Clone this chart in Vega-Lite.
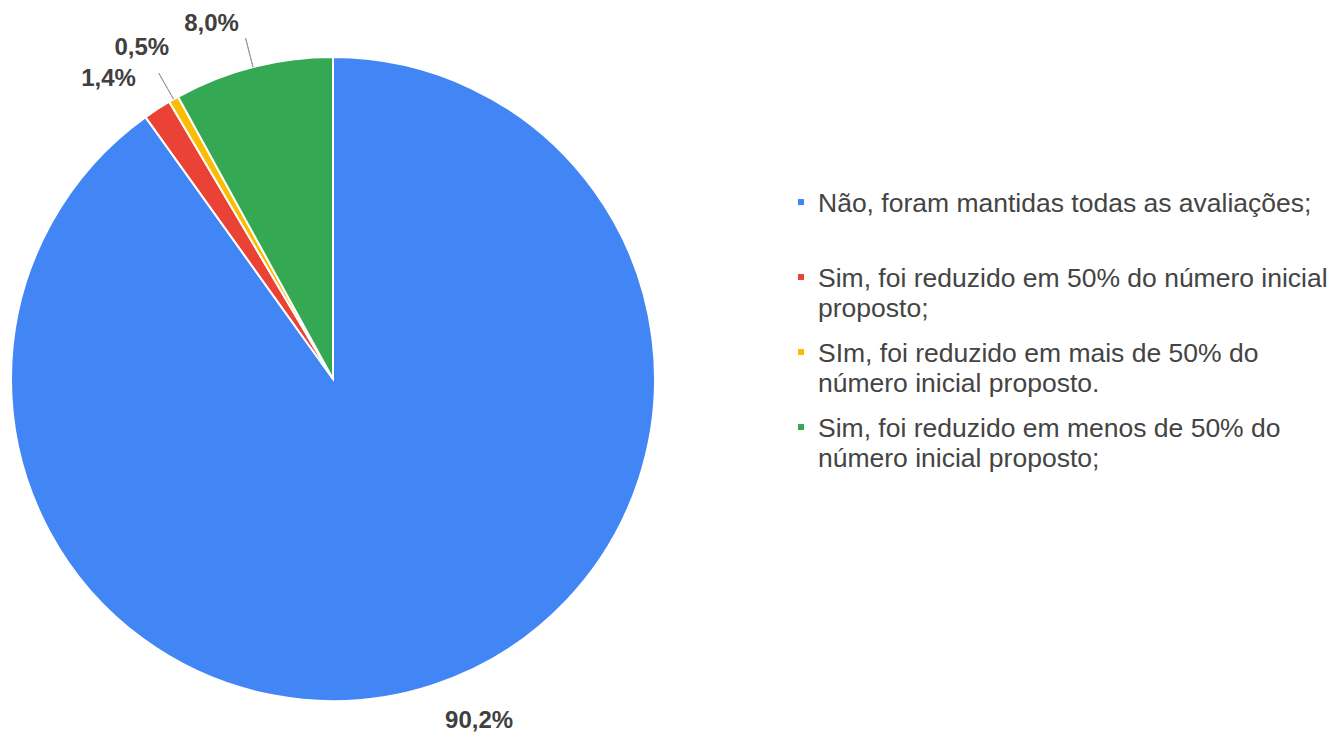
{
  "$schema": "https://vega.github.io/schema/vega-lite/v6.json",
  "background": "white",
  "padding": {"left": 7, "top": 12, "right": 0, "bottom": 0},
  "config": {"view": {"stroke": null}, "font": "Liberation Sans"},
  "data": {"values": [
    {"cat": "Não, foram mantidas todas as avaliações;", "ord": 1, "pct": 90.2, "lbl": "90,2%"},
    {"cat": "Sim, foi reduzido em 50% do número inicial\nproposto;", "ord": 2, "pct": 1.4, "lbl": "1,4%"},
    {"cat": "SIm, foi reduzido em mais de 50% do\nnúmero inicial proposto.", "ord": 3, "pct": 0.5, "lbl": "0,5%"},
    {"cat": "Sim, foi reduzido em menos de 50% do\nnúmero inicial proposto;", "ord": 4, "pct": 8.0, "lbl": "8,0%"}
  ]},
  "spacing": 139,
  "hconcat": [
    {
      "width": 644,
      "height": 644,
      "layer": [
        {
          "mark": {"type": "arc", "outerRadius": 322, "stroke": "white", "strokeWidth": 2},
          "encoding": {
            "theta": {"field": "pct", "type": "quantitative", "stack": true},
            "order": {"field": "ord", "type": "quantitative"},
            "color": {"field": "cat", "type": "nominal", "legend": null,
              "scale": {"domain": ["Não, foram mantidas todas as avaliações;", "Sim, foi reduzido em 50% do número inicial\nproposto;", "SIm, foi reduzido em mais de 50% do\nnúmero inicial proposto.", "Sim, foi reduzido em menos de 50% do\nnúmero inicial proposto;"],
                "range": ["#4285F4", "#EA4335", "#FBBC04", "#34A853"]}}
          }
        },
        {
          "transform": [
            {"window": [{"op": "sum", "field": "pct", "as": "cum"}], "sort": [{"field": "ord"}], "frame": [null, 0]},
            {"calculate": "datum.cum - datum.pct / 2", "as": "mid"},
            {"filter": "datum.ord >= 3"}
          ],
          "mark": {"type": "arc", "stroke": "#999999", "strokeWidth": 1, "fill": null},
          "encoding": {
            "theta": {"field": "mid", "type": "quantitative", "stack": null},
            "theta2": {"field": "mid"},
            "radius": {"value": 322},
            "radius2": {"value": 352}
          }
        },
        {
          "transform": [
            {"window": [{"op": "sum", "field": "pct", "as": "cum"}], "sort": [{"field": "ord"}], "frame": [null, 0]},
            {"calculate": "datum.cum - datum.pct / 2", "as": "mid"},
            {"filter": "datum.ord == 1"}
          ],
          "mark": {"type": "text", "radius": 360, "dx": 36, "dy": -1, "fontSize": 24, "fontWeight": "bold", "fill": "#404040"},
          "encoding": {
            "theta": {"field": "mid", "type": "quantitative", "stack": null},
            "text": {"field": "lbl"}
          }
        },
        {
          "transform": [
            {"window": [{"op": "sum", "field": "pct", "as": "cum"}], "sort": [{"field": "ord"}], "frame": [null, 0]},
            {"calculate": "datum.cum - datum.pct / 2", "as": "mid"},
            {"filter": "datum.ord == 2"}
          ],
          "mark": {"type": "text", "radius": 360, "dx": -28, "dy": 2, "fontSize": 24, "fontWeight": "bold", "fill": "#404040"},
          "encoding": {
            "theta": {"field": "mid", "type": "quantitative", "stack": null},
            "text": {"field": "lbl"}
          }
        },
        {
          "transform": [
            {"window": [{"op": "sum", "field": "pct", "as": "cum"}], "sort": [{"field": "ord"}], "frame": [null, 0]},
            {"calculate": "datum.cum - datum.pct / 2", "as": "mid"},
            {"filter": "datum.ord == 3"}
          ],
          "mark": {"type": "text", "radius": 360, "dx": -13, "dy": -18, "fontSize": 24, "fontWeight": "bold", "fill": "#404040"},
          "encoding": {
            "theta": {"field": "mid", "type": "quantitative", "stack": null},
            "text": {"field": "lbl"}
          }
        },
        {
          "transform": [
            {"window": [{"op": "sum", "field": "pct", "as": "cum"}], "sort": [{"field": "ord"}], "frame": [null, 0]},
            {"calculate": "datum.cum - datum.pct / 2", "as": "mid"},
            {"filter": "datum.ord == 4"}
          ],
          "mark": {"type": "text", "radius": 360, "dx": -32, "dy": -6, "fontSize": 24, "fontWeight": "bold", "fill": "#404040"},
          "encoding": {
            "theta": {"field": "mid", "type": "quantitative", "stack": null},
            "text": {"field": "lbl"}
          }
        }
      ]
    },
    {
      "width": 2,
      "height": 375,
      "layer": [
        {
          "mark": {"type": "square", "size": 36, "filled": true, "opacity": 1},
          "encoding": {
            "y": {"field": "ord", "type": "ordinal", "axis": null, "scale": {"type": "point", "padding": 1, "align": 0.967}},
            "color": {"field": "cat", "type": "nominal", "legend": null,
              "scale": {"domain": ["Não, foram mantidas todas as avaliações;", "Sim, foi reduzido em 50% do número inicial\nproposto;", "SIm, foi reduzido em mais de 50% do\nnúmero inicial proposto.", "Sim, foi reduzido em menos de 50% do\nnúmero inicial proposto;"],
                "range": ["#4285F4", "#EA4335", "#FBBC04", "#34A853"]}}
          }
        },
        {
          "mark": {"type": "text", "align": "left", "baseline": "alphabetic", "dx": 17, "dy": 9.5, "fontSize": 26.5, "lineBreak": "\n", "lineHeight": 30, "fill": "#444444"},
          "encoding": {
            "y": {"field": "ord", "type": "ordinal", "axis": null, "scale": {"type": "point", "padding": 1, "align": 0.967}},
            "text": {"field": "cat", "type": "nominal"}
          }
        }
      ]
    }
  ]
}
